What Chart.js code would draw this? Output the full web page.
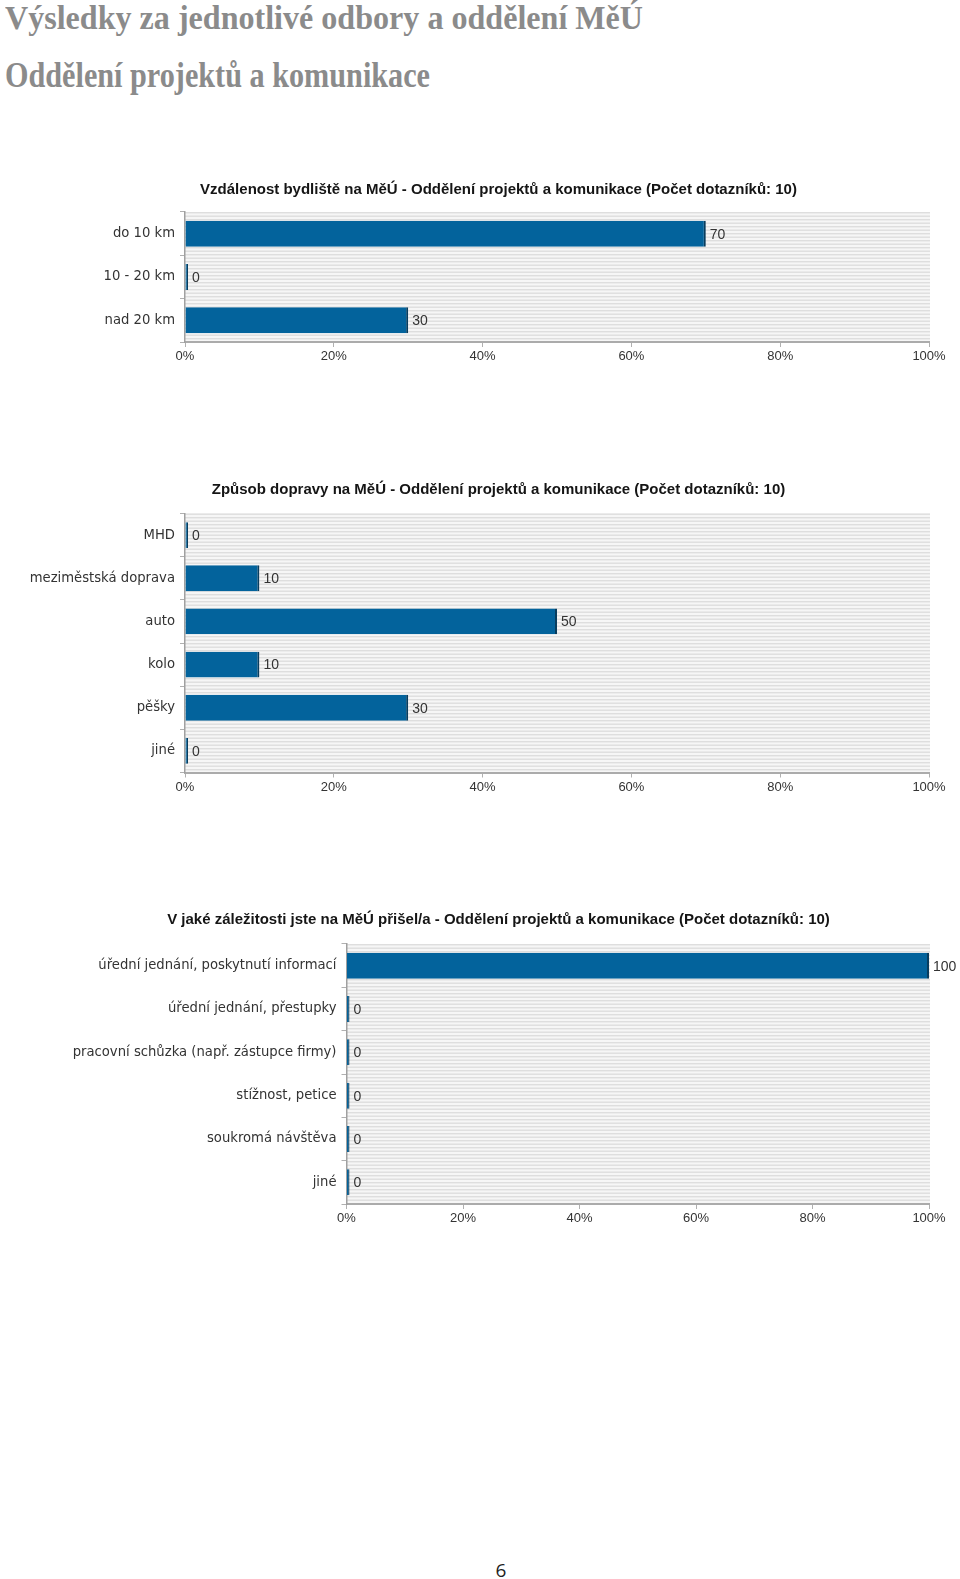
<!DOCTYPE html>
<html lang="cs">
<head>
<meta charset="utf-8">
<title>Výsledky za jednotlivé odbory a oddělení MěÚ</title>
<script src="https://cdn.jsdelivr.net/npm/chart.js@4.4.1/dist/chart.umd.min.js"></script>
<style>
  html, body { margin: 0; padding: 0; background: #fff; }
  body { width: 960px; height: 1579px; position: relative; overflow: hidden; }
  .heading {
    position: absolute; left: 5px; margin: 0; white-space: nowrap;
    font-family: "Liberation Serif", serif; font-weight: bold; color: #8b8b8b;
    line-height: 1; transform-origin: 0 0;
  }
  #h1 { top: 1px; font-size: 34px; }
  #h2 { top: 58px; font-size: 35px; }
  .box { position: absolute; left: 0; width: 960px; }
  #pageNo {
    position: absolute; left: 491px; width: 20px; top: 1558px; text-align: center;
    font-family: "Open Sans", sans-serif; font-size: 19px; color: #222; line-height: 24px;
  }
</style>
</head>
<body>
<h1 class="heading" id="h1">Výsledky za jednotlivé odbory a oddělení MěÚ</h1>
<h2 class="heading" id="h2">Oddělení projektů a komunikace</h2>

<div class="box" style="top:168px;height:202px"><canvas id="distanceChart"></canvas></div>
<div class="box" style="top:468.5px;height:331.5px"><canvas id="transportChart"></canvas></div>
<div class="box" style="top:900px;height:332px"><canvas id="purposeChart"></canvas></div>

<div id="pageNo">6</div>

<script>
// data (percent of respondents)
const distanceLabels = ["do 10 km", "10 - 20 km", "nad 20 km"];
const distanceValues = [70, 0, 30];

const transportLabels = ["MHD", "meziměstská doprava", "auto", "kolo", "pěšky", "jiné"];
const transportValues = [0, 10, 50, 10, 30, 0];

const purposeLabels = [
  "úřední jednání, poskytnutí informací",
  "úřední jednání, přestupky",
  "pracovní schůzka (např. zástupce firmy)",
  "stížnost, petice",
  "soukromá návštěva",
  "jiné",
];
const purposeValues = [100, 0, 0, 0, 0, 0];

const percentTicks = [0, 20, 40, 60, 80, 100];

// squeeze headings to the width of the original (Cambria is narrower)
function fitWidth(id, target) {
  const el = document.getElementById(id);
  const w = el.getBoundingClientRect().width;
  el.style.transform = "scaleX(" + target / w + ")";
}
fitWidth("h1", 638);
fitWidth("h2", 425);

// striped background of the plot area
const stripes = {
  id: "stripes",
  beforeDraw(chart) {
    const { ctx, chartArea: a } = chart;
    ctx.save();
    ctx.fillStyle = "#f6f6f6";
    ctx.fillRect(a.left, a.top, a.right - a.left + 1, a.bottom - a.top);
    ctx.fillStyle = "#dedede";
    for (let y = a.top; y < a.bottom; y += 3.5) {
      ctx.fillRect(a.left, y, a.right - a.left + 1, 1.4);
    }
    ctx.restore();
  },
};

// value next to each bar
const valueLabels = {
  id: "valueLabels",
  afterDatasetsDraw(chart) {
    const ctx = chart.ctx;
    const values = chart.data.datasets[0].data;
    ctx.save();
    ctx.font = "14px 'Liberation Sans', Arial, sans-serif";
    ctx.fillStyle = "#333";
    ctx.textBaseline = "middle";
    chart.getDatasetMeta(0).data.forEach((bar, i) => {
      ctx.fillText(String(values[i]), bar.x + 4, bar.y + 1);
    });
    ctx.restore();
  },
};

// chart heading, centred on the page column rather than the plot
const headTitle = {
  id: "headTitle",
  afterDraw(chart, args, opts) {
    const ctx = chart.ctx;
    ctx.save();
    ctx.font = "bold 15px 'Liberation Sans', Arial, sans-serif";
    ctx.fillStyle = "#151515";
    ctx.textAlign = "center";
    ctx.textBaseline = "middle";
    ctx.fillText(opts.text, opts.x, opts.y);
    ctx.restore();
  },
};

function makeChart(canvasId, title, labels, values, axisWidth, padTop, titleY) {
  return new Chart(document.getElementById(canvasId), {
    type: "bar",
    data: {
      labels: labels,
      datasets: [
        {
          data: values,
          backgroundColor: "#03639c",
          borderColor: "#083d5e",
          borderWidth: { top: 0, bottom: 0, left: 0, right: 2 },
          borderSkipped: false,
          barPercentage: 0.6,
          categoryPercentage: 1,
          minBarLength: 3,
        },
      ],
    },
    options: {
      indexAxis: "y",
      responsive: true,
      maintainAspectRatio: false,
      animation: false,
      layout: { padding: { left: 0, right: 31, top: padTop, bottom: 0 } },
      plugins: {
        legend: { display: false },
        tooltip: { enabled: false },
        headTitle: { text: title, x: 498.5, y: titleY },
      },
      scales: {
        x: {
          min: 0,
          max: 100,
          afterBuildTicks: (scale) => {
            scale.ticks = percentTicks.map((v) => ({ value: v }));
          },
          afterFit: (scale) => {
            scale.height = 28;
          },
          grid: { drawOnChartArea: false, tickLength: 5, color: "#b0b0b0" },
          border: { color: "#ababab", width: 2 },
          ticks: {
            padding: 2,
            color: "#333",
            font: { family: "'Liberation Sans', Arial, sans-serif", size: 13 },
            callback: (v) => v + "%",
          },
        },
        y: {
          afterFit: (scale) => {
            scale.width = axisWidth;
          },
          grid: { drawOnChartArea: false, tickLength: 5, color: "#b0b0b0" },
          border: { color: "#a0a0a0", width: 1.5 },
          ticks: {
            padding: 5,
            color: "#333",
            font: { family: "'DejaVu Sans', sans-serif", size: 13.2 },
          },
        },
      },
    },
    plugins: [stripes, valueLabels, headTitle],
  });
}

makeChart(
  "distanceChart",
  "Vzdálenost bydliště na MěÚ - Oddělení projektů a komunikace (Počet dotazníků: 10)",
  distanceLabels, distanceValues, 185, 44, 21.5
);
makeChart(
  "transportChart",
  "Způsob dopravy na MěÚ - Oddělení projektů a komunikace (Počet dotazníků: 10)",
  transportLabels, transportValues, 185, 44.5, 21
);
makeChart(
  "purposeChart",
  "V jaké záležitosti jste na MěÚ přišel/a - Oddělení projektů a komunikace (Počet dotazníků: 10)",
  purposeLabels, purposeValues, 346.5, 44, 19.5
);
</script>
</body>
</html>
